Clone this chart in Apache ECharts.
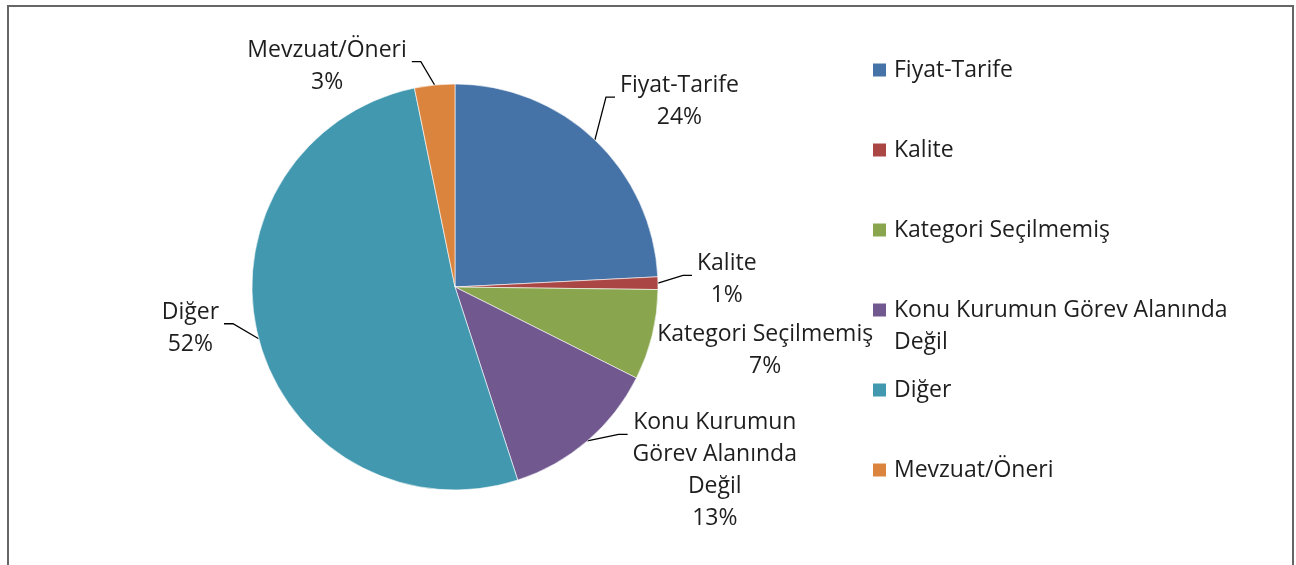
<!DOCTYPE html>
<html>
<head>
<meta charset="utf-8">
<script src="https://cdn.jsdelivr.net/npm/echarts@6/dist/echarts.min.js"></script>
<style>
  html, body { margin: 0; padding: 0; background: #fff; }
  #chart { width: 1296px; height: 565px; }
</style>
</head>
<body>
<div id="chart"></div>
<script>
// ---- data ----
const categories = ['Fiyat-Tarife', 'Kalite', 'Kategori Seçilmemiş', 'Konu Kurumun Görev Alanında Değil', 'Diğer', 'Mevzuat/Öneri'];
const values = [24.2, 1.0, 7.2, 12.6, 51.8, 3.2];
const labelLines = [['Fiyat-Tarife'], ['Kalite'], ['Kategori Seçilmemiş'], ['Konu Kurumun', 'Görev Alanında', 'Değil'], ['Diğer'], ['Mevzuat/Öneri']];
const legendLines = [['Fiyat-Tarife'], ['Kalite'], ['Kategori Seçilmemiş'], ['Konu Kurumun Görev Alanında', 'Değil'], ['Diğer'], ['Mevzuat/Öneri']];

// ---- styles ----
const colors = ['#4572A7', '#AA4643', '#89A54E', '#71588F', '#4198AF', '#DB843D'];
const leader = [
  { length: 35, length2: 8, show: true, dx: -12, dy: -13 },
  { length: 12, length2: 10, show: true, dx: 12, dy: -3 },
  { length: 0, length2: 0, show: false, dx: 0, dy: 15 },
  { length: 25, length2: 20, show: true, dx: 4, dy: 11 },
  { length: 10, length2: 20, show: true, dx: -5, dy: -13 },
  { length: 28, length2: 10, show: true, dx: -10, dy: 9 }
];
const FONT = '"Open Sans", "Noto Sans", sans-serif';
const FS = 23, LH = 32, TXT = '#1e1e1e';

const chart = echarts.init(document.getElementById('chart'));

const pieData = categories.map((c, i) => ({
  name: c,
  value: values[i],
  itemStyle: { color: colors[i] },
  labelLine: { show: leader[i].show, length: leader[i].length, length2: leader[i].length2 }
}));

const legends = categories.map((c, i) => {
  const centerY = 70 + 80 * i;
  const nLines = legendLines[i].length === 1 ? 1 : legendLines[i].length * 2 - 1;
  const text = legendLines[i].length === 1 ? legendLines[i][0] : '\n'.repeat(legendLines[i].length - 1) + legendLines[i].join('\n');
  return {
    data: [c],
    orient: 'vertical',
    left: 871,
    top: centerY - (nLines * LH) / 2,
    itemWidth: 15,
    itemHeight: 15,
    icon: 'rect',
    selectedMode: false,
    padding: 0,
    formatter: () => text,
    textStyle: { fontFamily: FONT, fontSize: FS, lineHeight: LH, color: TXT, padding: [0, 0, 0, 2] }
  };
});

// Excel-style leader: from the slice edge, bend, short horizontal into the label's first line
function leaderLayout(p) {
  const cfg = leader[p.dataIndex];
  const r = p.labelRect;
  const x0 = r.x + cfg.dx, y0 = r.y + cfg.dy;
  const start = p.labelLinePoints ? p.labelLinePoints[0] : [x0, y0];
  const onRight = x0 + r.width / 2 > start[0];
  const endX = onRight ? x0 - 5 : x0 + r.width + 5;
  const endY = y0 + LH / 2 + 7;
  const midX = onRight ? endX - 9 : endX + 9;
  return {
    hideOverlap: false,
    moveOverlap: false,
    dx: cfg.dx,
    dy: cfg.dy,
    labelLinePoints: [start, [midX, endY], [endX, endY]]
  };
}

chart.setOption({
  animation: false,
  color: colors,
  graphic: [{
    type: 'rect',
    shape: { x: 8, y: 6, width: 1285, height: 620 },
    style: { fill: 'none', stroke: '#666666', lineWidth: 2 },
    silent: true
  }],
  legend: legends,
  series: [{
    type: 'pie',
    center: [455, 287],
    radius: 203,
    startAngle: 90,
    clockwise: true,
    avoidLabelOverlap: false,
    minShowLabelAngle: 0,
    data: pieData,
    itemStyle: { borderColor: '#ffffff', borderWidth: 0.6 },
    label: {
      show: true,
      position: 'outside',
      distanceToLabelLine: 5,
      formatter: (p) => {
        const lines = labelLines[p.dataIndex].concat([Math.round(p.percent) + '%']);
        return lines.map(l => '{c|' + l + '}').join('\n');
      },
      rich: {
        c: { align: 'center', fontFamily: FONT, fontSize: FS, lineHeight: LH, color: TXT }
      }
    },
    labelLayout: leaderLayout,
    labelLine: { lineStyle: { color: '#000000', width: 1.3 } },
    emphasis: { disabled: true }
  }]
});
</script>
</body>
</html>
